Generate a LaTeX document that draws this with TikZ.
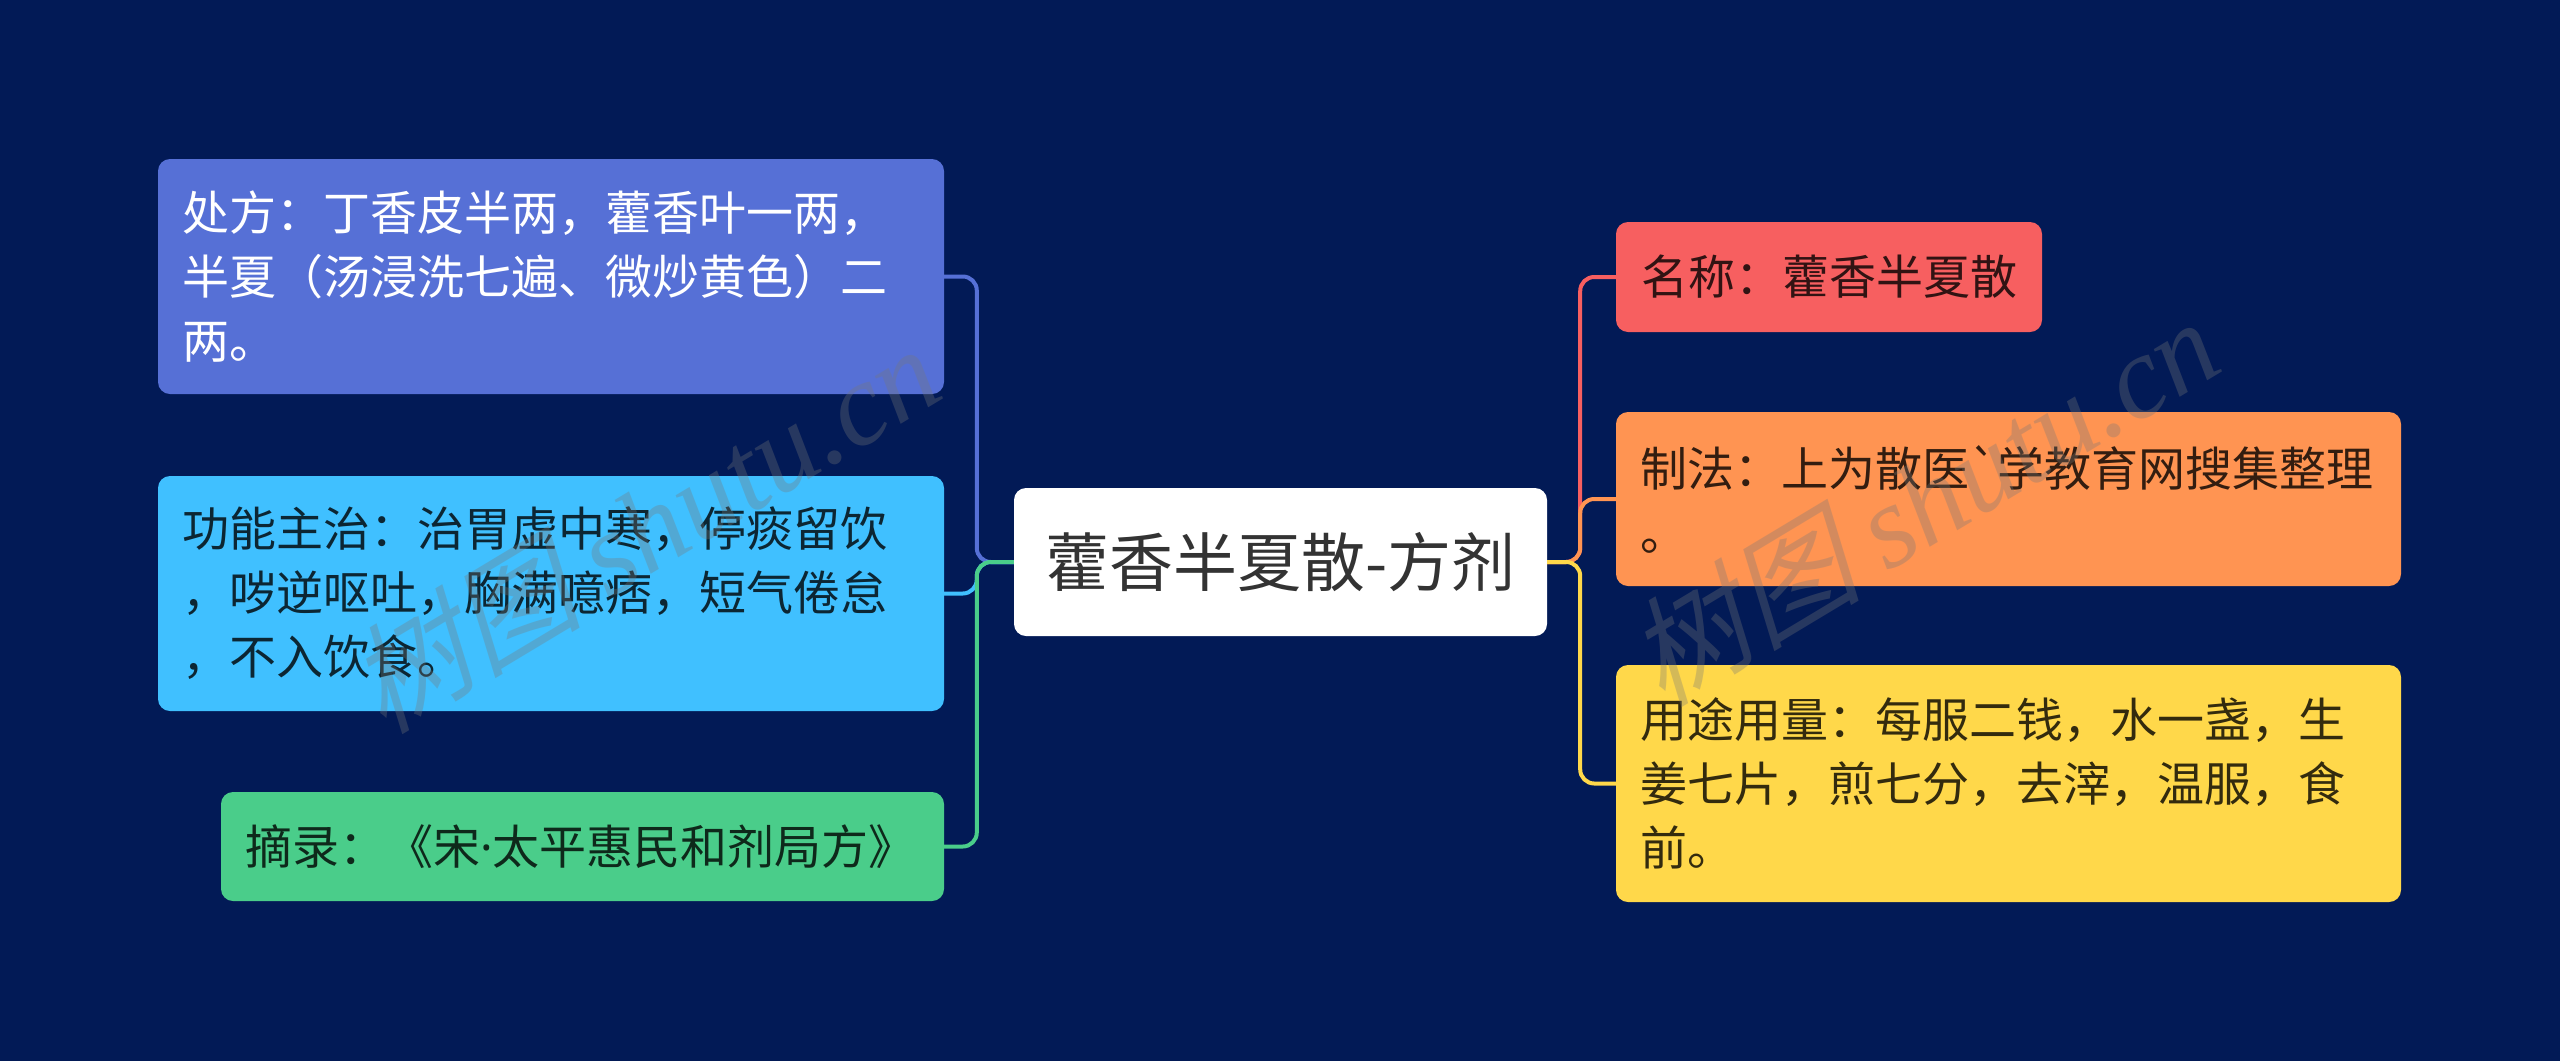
\documentclass[tikz,border=0pt]{standalone}
\usepackage{fontspec}
\newfontfamily\cjk[Ligatures=TeXOff]{Noto Sans CJK SC}
\newfontfamily\wmcjk[FakeSlant=0.25]{Noto Sans CJK SC}
\newfontfamily\wmlat{Liberation Serif}
\newfontfamily\latdot{Noto Sans}
\definecolor{bgc}{RGB}{2,26,86}
\definecolor{cA}{RGB}{86,112,214}
\definecolor{cB}{RGB}{64,192,255}
\definecolor{cC}{RGB}{74,205,138}
\definecolor{cD}{RGB}{247,95,96}
\definecolor{cE}{RGB}{255,148,82}
\definecolor{cF}{RGB}{255,216,74}
\definecolor{wmc}{RGB}{120,120,120}
\tikzset{
  box/.style={rectangle, rounded corners=12pt, inner xsep=24pt, inner ysep=0pt,
    align=left, font=\cjk\fontsize{47pt}{64pt}\selectfont,
    text=black, text opacity=0.8},
  wbox/.style={box, text=white, text opacity=1},
  link/.style={line width=4pt, rounded corners=14pt},
  wm/.style={text=wmc, opacity=0.32, inner sep=0pt}
}
\begin{document}
\begin{tikzpicture}[x=1pt,y=-1pt]
\fill[bgc] (0,0) rectangle (2560,1061);
\useasboundingbox (0,0) rectangle (2560,1061);

% nodes
\node[box, fill=white, align=center, inner xsep=0pt, font=\cjk\fontsize{64pt}{80pt}\selectfont,
  minimum width=533pt, minimum height=148pt] (c) at (1280.5,562) {藿香半夏散-方剂};

\node[wbox, fill=cA, text width=738pt, minimum height=235pt] (p1) at (551,276.5)
  {处方：丁香皮半两，藿香叶一两，\\半夏（汤浸洗七遍、微炒黄色）二\\两。};
\node[box, fill=cB, text width=738pt, minimum height=235pt] (p2) at (551,593.5)
  {功能主治：治胃虚中寒，停痰留饮\\，哕逆呕吐，胸满噫痞，短气倦怠\\，不入饮食。};
\node[box, fill=cC, text width=675pt, minimum height=109pt] (p3) at (582.5,846.5)
  {摘录：《宋{\latdot ·}太平惠民和剂局方》};

\node[box, fill=cD, minimum width=426pt, minimum height=110pt] (r1) at (1829,277)
  {名称：藿香半夏散};
\node[box, fill=cE, text width=737pt, minimum height=174pt] (r2) at (2008.5,499)
  {制法：上为散医`学教育网搜集整理\\。};
\node[box, fill=cF, text width=737pt, minimum height=237pt] (r3) at (2008.5,783.5)
  {用途用量：每服二钱，水一盏，生\\姜七片，煎七分，去滓，温服，食\\前。};

% connectors
\draw[link, cA] (c.west) -- ++(-37,0) |- (p1.east);
\draw[link, cB] (c.west) -- ++(-37,0) |- (p2.east);
\draw[link, cC] (c.west) -- ++(-37,0) |- (p3.east);
\draw[link, cD] (c.east) -- ++(33,0) |- (r1.west);
\draw[link, cE] (c.east) -- ++(33,0) |- (r2.west);
\draw[link, cF] (c.east) -- ++(33,0) |- (r3.west);

% watermarks
\node[wm, rotate=31] (w1) at (643,527) {\wmcjk\fontsize{118pt}{120pt}\selectfont 树图 \wmlat\itshape shutu.cn};
\node[wm, rotate=31] (w2) at (1922,500) {\wmcjk\fontsize{118pt}{120pt}\selectfont 树图 \wmlat\itshape shutu.cn};
\end{tikzpicture}
\end{document}
